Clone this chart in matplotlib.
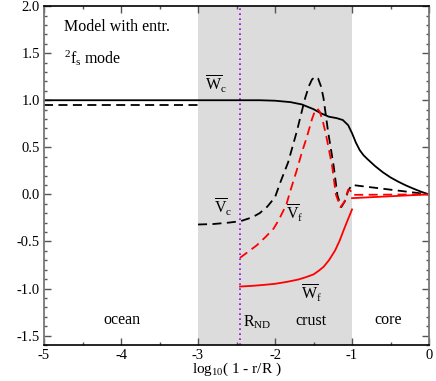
import matplotlib
matplotlib.use('Agg')
import matplotlib.pyplot as plt
from matplotlib.ticker import MultipleLocator

plt.rcParams['font.family'] = ['Liberation Serif', 'DejaVu Serif']
plt.rcParams['mathtext.fontset'] = 'custom'
plt.rcParams['mathtext.rm'] = 'Liberation Serif'
plt.rcParams['mathtext.it'] = 'Liberation Serif:italic'
plt.rcParams['axes.unicode_minus'] = False

# radius coordinate log10(1 - r/R)
crust_lo, crust_hi = -3.0, -1.0
r_nd = -2.455

# W_c (black solid), continuous from ocean to centre
wc_x = [-5.0, -2.2, -2.0, -1.8, -1.65, -1.5, -1.4, -1.3, -1.2, -1.12, -1.05, -1.0,
        -0.95, -0.9, -0.85, -0.8, -0.7, -0.6, -0.5, -0.4, -0.3, -0.2, -0.1, 0.0]
wc_y = [1.0, 1.0, 0.995, 0.98, 0.955, 0.905, 0.86, 0.825, 0.81, 0.79, 0.735, 0.65,
        0.55, 0.47, 0.415, 0.375, 0.30, 0.235, 0.18, 0.135, 0.095, 0.06, 0.027, 0.0]

# V_c (black dashed): ocean piece, then crust + core
vc_ocean_x = [-5.0, -3.0]
vc_ocean_y = [0.945, 0.945]
vc_x = [-3.0, -2.8, -2.6, -2.45, -2.3, -2.2, -2.1, -2.0, -1.93, -1.83, -1.72, -1.61,
        -1.56, -1.52, -1.48, -1.44, -1.40, -1.37, -1.31, -1.24, -1.19, -1.14, -1.09,
        -1.05, -1.0, -0.5, 0.0]
vc_y = [-0.32, -0.315, -0.30, -0.285, -0.245, -0.2, -0.13, -0.03, 0.13, 0.34, 0.66, 1.02,
        1.15, 1.22, 1.25, 1.23, 1.14, 1.02, 0.66, 0.31, -0.01, -0.135, -0.07,
        0.04, 0.10, 0.05, 0.0]

# V_f (red dashed), from R_ND inward
vf_x = [-2.455, -2.35, -2.24, -2.12, -2.02, -1.95, -1.89, -1.85, -1.8, -1.72, -1.65,
        -1.59, -1.52, -1.48, -1.45, -1.42, -1.38, -1.34, -1.26, -1.21, -1.15, -1.10,
        -1.05, -1.02, -1.0, 0.0]
vf_y = [-0.674, -0.61, -0.543, -0.45, -0.365, -0.27, -0.17, -0.10, 0.04, 0.25, 0.45,
        0.60, 0.80, 0.89, 0.91, 0.88, 0.78, 0.64, 0.31, 0.0, -0.135, -0.08,
        0.05, 0.04, -0.005, 0.0]

# W_f (red solid): crust piece and core piece
wf_x = [-2.455, -2.3, -2.15, -2.0, -1.85, -1.7, -1.6, -1.5, -1.43, -1.37, -1.3,
        -1.22, -1.16, -1.11, -1.05, -1.0]
wf_y = [-0.979, -0.972, -0.962, -0.95, -0.93, -0.905, -0.88, -0.85, -0.81, -0.77, -0.70,
        -0.596, -0.49, -0.383, -0.26, -0.16]
wf_core_x = [-1.0, 0.0]
wf_core_y = [-0.04, 0.0]

fig = plt.figure(figsize=(4.36, 3.81), dpi=100)
ax = fig.add_axes([0.101, 0.0945, 0.883, 0.8895])

ax.axvspan(crust_lo, crust_hi, color='#dcdcdc', lw=0, zorder=0)
ax.axvline(r_nd, color='#9b00e0', ls=(0, (1, 2)), lw=1.2, zorder=1)

dash = (0, (5, 3))
ax.plot(wc_x, wc_y, color='black', lw=1.3)
ax.plot(vc_ocean_x, vc_ocean_y, color='black', lw=1.3, ls=dash)
ax.plot(vc_x, vc_y, color='black', lw=1.3, ls=dash)
ax.plot(vf_x, vf_y, color='red', lw=1.3, ls=dash)
ax.plot(wf_x, wf_y, color='red', lw=1.3)
ax.plot(wf_core_x, wf_core_y, color='red', lw=1.3)

ax.set_xlim(-5, 0)
ax.set_ylim(-1.6, 2.0)
ax.xaxis.set_major_locator(MultipleLocator(1))
ax.xaxis.set_minor_locator(MultipleLocator(0.5))
ax.yaxis.set_major_locator(MultipleLocator(0.5))
ax.yaxis.set_minor_locator(MultipleLocator(0.1))
ax.tick_params(which='both', direction='in', top=True, right=True, labelsize=10.5,
               color='#555555', pad=3)
ax.tick_params(which='major', length=5, width=1)
ax.tick_params(which='minor', length=2.5, width=1)
for s in ['left', 'right']:
    ax.spines[s].set_color('#777777')
    ax.spines[s].set_linewidth(1.3)
for s in ['top', 'bottom']:
    ax.spines[s].set_color('black')
    ax.spines[s].set_linewidth(1.2)

ax.set_xlabel(r'log$_{10}$( 1 - r/R )', fontsize=11, labelpad=-1)

fs = 11.5
ax.text(-4.74, 1.78, 'Model with entr.', fontsize=fs, va='center')
ax.text(-4.74, 1.45, r'$^{2}$f$_{\rm s}$ mode', fontsize=fs, va='center')
ax.text(-2.77, 1.17, r'$\overline{\rm W}_{\rm c}$', fontsize=fs, ha='center', va='center')
ax.text(-2.68, -0.14, r'$\overline{\rm V}_{\rm c}$', fontsize=fs, ha='center', va='center')
ax.text(-1.74, -0.20, r'$\overline{\rm V}_{\rm f}$', fontsize=fs, ha='center', va='center')
ax.text(-1.52, -1.05, r'$\overline{\rm W}_{\rm f}$', fontsize=fs, ha='center', va='center')
ax.text(-3.99, -1.33, 'ocean', fontsize=fs, ha='center', va='center')
ax.text(-2.41, -1.36, r'R$_{\rm ND}$', fontsize=fs, ha='left', va='center')
ax.text(-1.53, -1.35, 'crust', fontsize=fs, ha='center', va='center')
ax.text(-0.53, -1.33, 'core', fontsize=fs, ha='center', va='center')

fig.savefig('out.png', dpi=100)
